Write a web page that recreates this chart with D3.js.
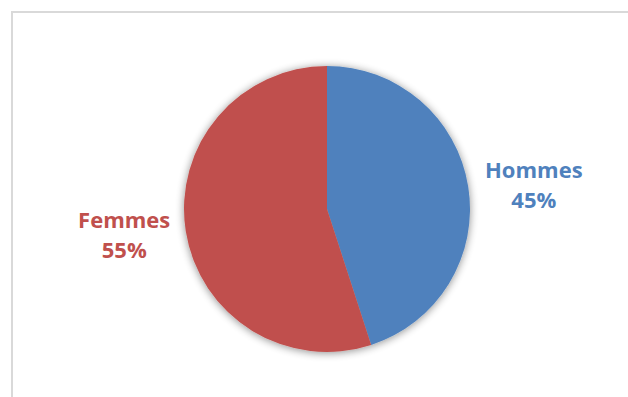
<!DOCTYPE html>
<html lang="fr">
<head>
  <meta charset="UTF-8">
  <title>Hommes / Femmes</title>
  <script src="https://d3js.org/d3.v7.min.js"></script>
  <style>
    body { margin: 0; background: #fff; }
    .label {
      font-family: "Open Sans", Arial, sans-serif;
      font-weight: bold;
      font-size: 22px;
    }
  </style>
</head>
<body>
  <div id="chart"></div>
  <script>
    const categories = ["Hommes", "Femmes"];
    const values = [45, 55];
    const colors = ["#4F81BD", "#C0504D"];

    const width = 628;
    const height = 397;
    const cx = 327, cy = 209, r = 143;

    const svg = d3.select("#chart").append("svg")
      .attr("width", width)
      .attr("height", height);

    // chart area border (runs off the right and bottom edges)
    svg.append("rect")
      .attr("x", 12).attr("y", 12)
      .attr("width", width).attr("height", height)
      .attr("fill", "none")
      .attr("stroke", "#d9d9d9")
      .attr("stroke-width", 2);

    const defs = svg.append("defs");
    const f = defs.append("filter").attr("id", "shadow")
      .attr("x", "-20%").attr("y", "-20%").attr("width", "140%").attr("height", "140%");
    f.append("feGaussianBlur").attr("in", "SourceAlpha").attr("stdDeviation", 4).attr("result", "b");
    f.append("feOffset").attr("in", "b").attr("dx", 0).attr("dy", 1).attr("result", "o");
    f.append("feComponentTransfer").attr("in", "o").attr("result", "s")
      .append("feFuncA").attr("type", "linear").attr("slope", 0.45);
    const m = f.append("feMerge");
    m.append("feMergeNode").attr("in", "s");
    m.append("feMergeNode").attr("in", "SourceGraphic");

    const pie = d3.pie().sort(null).value(d => d)(values);
    const arc = d3.arc().innerRadius(0).outerRadius(r);

    const g = svg.append("g")
      .attr("transform", `translate(${cx},${cy})`)
      .attr("filter", "url(#shadow)");

    g.selectAll("path")
      .data(pie)
      .join("path")
      .attr("d", arc)
      .attr("fill", (d, i) => colors[i]);

    // labels outside the pie, two lines each
    const labelArc = d3.arc().innerRadius(r * 1.45).outerRadius(r * 1.45);
    const labels = svg.append("g")
      .attr("transform", `translate(${cx},${cy})`)
      .selectAll("text")
      .data(pie)
      .join("text")
      .attr("class", "label")
      .attr("text-anchor", "middle")
      .attr("fill", (d, i) => colors[i])
      .attr("transform", d => {
        const [x, y] = labelArc.centroid(d);
        return `translate(${x + 2},${y * 0.78})`;
      });
    labels.append("tspan").attr("x", 0).attr("y", -6).text((d, i) => categories[i]);
    labels.append("tspan").attr("x", 0).attr("y", 24).text(d => d.data + "%");
  </script>
</body>
</html>
